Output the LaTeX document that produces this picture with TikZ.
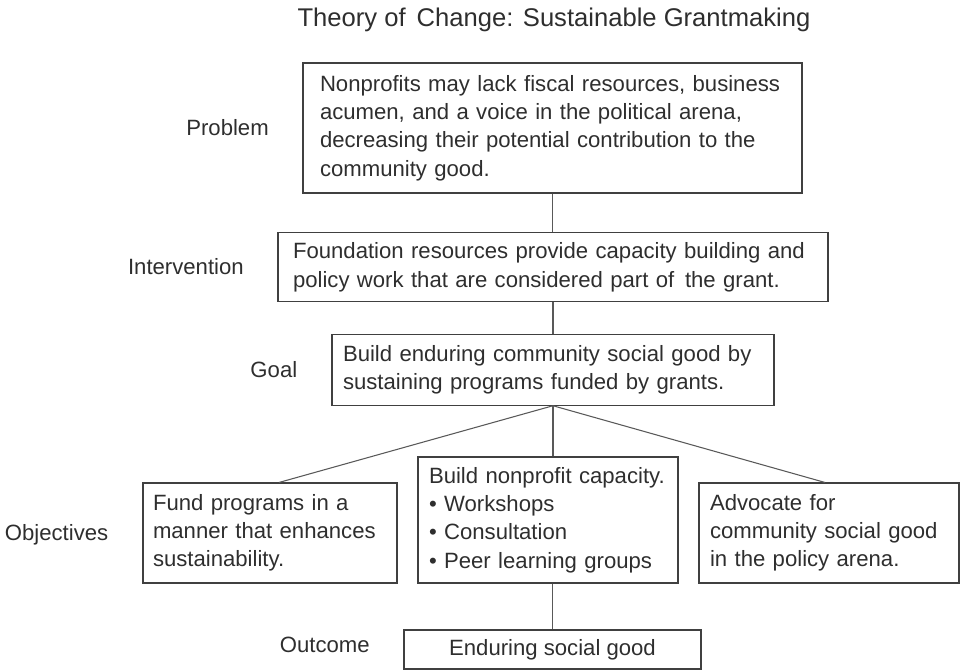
\documentclass[tikz,border=0pt]{standalone}
\usepackage{fontspec}
\setmainfont{Liberation Sans}
\begin{document}
\begin{tikzpicture}[x=0.75pt,y=-0.75pt,
  txt/.style={text=black!82, font=\fontsize{16.6}{21.2}\selectfont},
  box/.style={txt, draw=black!75, line width=0.8pt, inner ysep=0pt, align=left},
  lbl/.style={txt, anchor=base east, inner sep=0pt},
  conn/.style={draw=black!65, line width=0.8pt}]
\useasboundingbox (0,0) rectangle (960,670);
\node[txt, anchor=base, font=\fontsize{19.2}{23}\selectfont, inner sep=0pt] (title) at (554,26.7) {Theory of\kern0.15em\ Change: Sustainable Grantmaking};

\node[box, text width=348.75pt, inner xsep=12.75pt, minimum height=97.5pt] (prob) at (552.5,128)
  {\mbox{Nonprofits may lack fiscal resources, business}\\\mbox{acumen, and a voice in the political arena,}\\\mbox{decreasing their potential contribution to the}\\\mbox{community good.}};
\node[box, text width=390pt, inner xsep=11.25pt, minimum height=51.75pt] (inter) at (553,267.3)
  {\mbox{Foundation resources provide capacity building and}\\\mbox{policy work that are considered part of\kern0.15em\ the grant.}};
\node[box, text width=315pt, inner xsep=8.25pt, minimum height=53.25pt] (goal) at (553,369.7)
  {\mbox{Build enduring community social good by}\\\mbox{sustaining programs funded by grants.}};
\node[box, text width=175.5pt, inner xsep=7.5pt, minimum height=75pt] (lobj) at (270,533)
  {\mbox{Fund programs in a}\\\mbox{manner that enhances}\\\mbox{sustainability.}};
\node[box, text width=178.5pt, inner xsep=8.25pt, minimum height=94.5pt] (mobj) at (548,520)
  {\mbox{Build nonprofit capacity.}\\\mbox{\textbullet\ Workshops}\\\mbox{\textbullet\ Consultation}\\\mbox{\textbullet\ Peer learning groups}};
\node[box, text width=178.5pt, inner xsep=8.25pt, minimum height=75pt] (robj) at (829,533)
  {\mbox{Advocate for}\\\mbox{community social good}\\\mbox{in the policy arena.}};
\node[box, minimum width=222.75pt, minimum height=29.25pt] (outc) at (552.5,649.5) {Enduring social good};

\node[lbl] (lprob) at (269,136) {Problem};
\node[lbl] (linter) at (244,274.3) {Intervention};
\node[lbl] (lgoal) at (297.5,377.3) {Goal};
\node[lbl] (lobjs) at (108.5,540.7) {Objectives};
\node[lbl] (loutc) at (370,652.7) {Outcome};

\draw[conn] (prob.south) -- (prob.south |- inter.north);
\draw[conn] (inter.south) -- (inter.south |- goal.north);
\draw[conn] (goal.south) -- ([xshift=6.75pt]lobj.north);
\draw[conn] (goal.south) -- (goal.south |- mobj.north);
\draw[conn] (goal.south) -- ([xshift=-3pt]robj.north);
\draw[conn] (outc.north |- mobj.south) -- (outc.north);
\end{tikzpicture}
\end{document}
